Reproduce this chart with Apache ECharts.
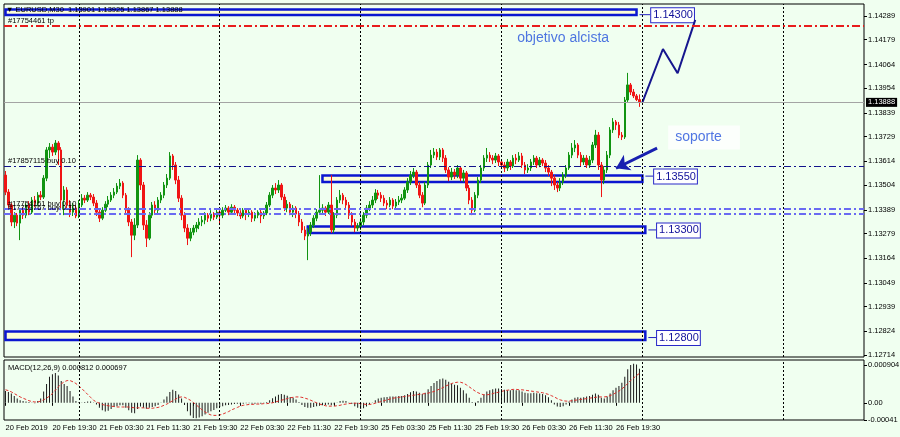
<!DOCTYPE html>
<html><head><meta charset="utf-8">
<script src="https://cdn.jsdelivr.net/npm/echarts@6/dist/echarts.min.js"></script>
<style>html,body{margin:0;padding:0;background:#f0fff0}#c{width:900px;height:437px}</style>
</head><body><div id="c"></div>
<script>
// ---------- DATA (EURUSD M30, [open, close, low, high]) ----------
const feb20 = [
[1.13550,1.13471,1.13457,1.13569],[1.13471,1.13411,1.13397,1.13485],[1.13411,1.13332,1.13313,1.13420],
[1.13332,1.13364,1.13304,1.13378],[1.13364,1.13327,1.13313,1.13374],[1.13327,1.13387,1.13248,1.13397],
[1.13387,1.13364,1.13346,1.13401],[1.13364,1.13411,1.13350,1.13420],[1.13411,1.13378,1.13364,1.13429],
[1.13378,1.13434,1.13369,1.13448],[1.13434,1.13420,1.13401,1.13453],[1.13420,1.13457,1.13406,1.13471],
[1.13457,1.13448,1.13434,1.13476],[1.13448,1.13536,1.13439,1.13550],[1.13536,1.13667,1.13522,1.13680],
[1.13667,1.13680,1.13629,1.13699],[1.13680,1.13657,1.13639,1.13694],[1.13657,1.13699,1.13643,1.13713],
[1.13699,1.13667,1.13597,1.13708],[1.13667,1.13434,1.13387,1.13680],[1.13434,1.13481,1.13364,1.13499],
[1.13481,1.13411,1.13397,1.13494],[1.13411,1.13378,1.13355,1.13434],[1.13378,1.13397,1.13360,1.13420],
[1.13397,1.13360,1.13350,1.13411]];
const feb21 = [
[1.13360,1.13411,1.13350,1.13434],[1.13411,1.13443,1.13401,1.13462],[1.13443,1.13434,1.13420,1.13457],
[1.13434,1.13457,1.13425,1.13471],[1.13457,1.13448,1.13434,1.13467],[1.13448,1.13420,1.13406,1.13462],
[1.13420,1.13378,1.13360,1.13434],[1.13378,1.13350,1.13332,1.13392],[1.13350,1.13387,1.13341,1.13401],
[1.13387,1.13415,1.13378,1.13429],[1.13415,1.13434,1.13401,1.13453],[1.13434,1.13457,1.13425,1.13471],
[1.13457,1.13471,1.13443,1.13490],[1.13471,1.13499,1.13462,1.13513],[1.13499,1.13513,1.13485,1.13532],
[1.13513,1.13457,1.13443,1.13522],[1.13457,1.13387,1.13374,1.13467],[1.13387,1.13332,1.13313,1.13401],
[1.13332,1.13271,1.13169,1.13346],[1.13271,1.13318,1.13248,1.13350],[1.13318,1.13620,1.13304,1.13643],
[1.13620,1.13504,1.13481,1.13629],[1.13504,1.13318,1.13295,1.13518],[1.13318,1.13257,1.13216,1.13341],
[1.13257,1.13364,1.13248,1.13378],[1.13364,1.13411,1.13350,1.13425],[1.13411,1.13387,1.13369,1.13429],
[1.13387,1.13434,1.13374,1.13448],[1.13434,1.13457,1.13420,1.13471],[1.13457,1.13504,1.13443,1.13518],
[1.13504,1.13536,1.13490,1.13555],[1.13536,1.13639,1.13527,1.13657],[1.13639,1.13597,1.13574,1.13648],
[1.13597,1.13527,1.13508,1.13611],[1.13527,1.13443,1.13425,1.13546],[1.13443,1.13364,1.13341,1.13457],
[1.13364,1.13304,1.13285,1.13378],[1.13304,1.13257,1.13225,1.13322],[1.13257,1.13285,1.13243,1.13304],
[1.13285,1.13304,1.13271,1.13318],[1.13304,1.13318,1.13285,1.13332],[1.13318,1.13332,1.13299,1.13350],
[1.13332,1.13341,1.13313,1.13360],[1.13341,1.13364,1.13322,1.13378],[1.13364,1.13350,1.13332,1.13374],
[1.13350,1.13369,1.13336,1.13387],[1.13369,1.13355,1.13341,1.13378],[1.13355,1.13378,1.13346,1.13392]];
const feb22 = [
[1.13378,1.13364,1.13322,1.13387],[1.13364,1.13387,1.13350,1.13401],[1.13387,1.13397,1.13378,1.13411],
[1.13397,1.13378,1.13364,1.13406],[1.13378,1.13401,1.13369,1.13415],[1.13401,1.13387,1.13374,1.13411],
[1.13387,1.13374,1.13360,1.13397],[1.13374,1.13360,1.13346,1.13387],[1.13360,1.13387,1.13350,1.13397],
[1.13387,1.13369,1.13341,1.13397],[1.13369,1.13378,1.13355,1.13392],[1.13378,1.13350,1.13332,1.13387],
[1.13350,1.13364,1.13336,1.13378],[1.13364,1.13378,1.13350,1.13387],[1.13378,1.13360,1.13327,1.13392],
[1.13360,1.13374,1.13346,1.13383],[1.13374,1.13411,1.13364,1.13425],[1.13411,1.13457,1.13401,1.13471],
[1.13457,1.13490,1.13443,1.13504],[1.13490,1.13481,1.13462,1.13513],[1.13481,1.13504,1.13467,1.13527],
[1.13504,1.13448,1.13434,1.13513],[1.13448,1.13397,1.13383,1.13462],[1.13397,1.13415,1.13378,1.13434],
[1.13415,1.13378,1.13364,1.13425],[1.13378,1.13397,1.13355,1.13411],[1.13397,1.13369,1.13350,1.13406],
[1.13369,1.13332,1.13313,1.13383],[1.13332,1.13295,1.13281,1.13346],[1.13295,1.13267,1.13248,1.13313],
[1.13267,1.13285,1.13155,1.13304],[1.13285,1.13318,1.13267,1.13332],[1.13318,1.13350,1.13304,1.13364],
[1.13350,1.13378,1.13336,1.13392],[1.13378,1.13387,1.13369,1.13550],[1.13387,1.13397,1.13374,1.13415],
[1.13397,1.13378,1.13360,1.13406],[1.13378,1.13411,1.13369,1.13425],[1.13411,1.13295,1.13281,1.13550],
[1.13295,1.13364,1.13281,1.13378],[1.13364,1.13434,1.13350,1.13448],[1.13434,1.13457,1.13420,1.13481],
[1.13457,1.13434,1.13415,1.13467],[1.13434,1.13411,1.13392,1.13448],[1.13411,1.13364,1.13346,1.13425],
[1.13364,1.13332,1.13313,1.13378],[1.13332,1.13304,1.13285,1.13346],[1.13304,1.13313,1.13290,1.13327]];
const feb25 = [
[1.13313,1.13332,1.13295,1.13350],[1.13332,1.13364,1.13318,1.13378],[1.13364,1.13397,1.13350,1.13411],
[1.13397,1.13411,1.13383,1.13429],[1.13411,1.13434,1.13397,1.13453],[1.13434,1.13467,1.13420,1.13485],
[1.13467,1.13457,1.13439,1.13481],[1.13457,1.13443,1.13425,1.13471],[1.13443,1.13420,1.13406,1.13457],
[1.13420,1.13411,1.13392,1.13434],[1.13411,1.13434,1.13401,1.13448],[1.13434,1.13406,1.13392,1.13443],
[1.13406,1.13425,1.13397,1.13439],[1.13425,1.13434,1.13411,1.13453],[1.13434,1.13443,1.13420,1.13462],
[1.13443,1.13481,1.13434,1.13494],[1.13481,1.13518,1.13467,1.13536],[1.13518,1.13550,1.13504,1.13569],
[1.13550,1.13564,1.13536,1.13583],[1.13564,1.13504,1.13490,1.13574],[1.13504,1.13457,1.13443,1.13518],
[1.13457,1.13420,1.13401,1.13471],[1.13420,1.13504,1.13411,1.13518],[1.13504,1.13597,1.13490,1.13611],
[1.13597,1.13643,1.13583,1.13667],[1.13643,1.13657,1.13629,1.13676],[1.13657,1.13634,1.13620,1.13671],
[1.13634,1.13667,1.13620,1.13676],[1.13667,1.13629,1.13611,1.13676],[1.13629,1.13574,1.13560,1.13643],
[1.13574,1.13541,1.13522,1.13587],[1.13541,1.13564,1.13527,1.13583],[1.13564,1.13550,1.13532,1.13578],
[1.13550,1.13583,1.13536,1.13597],[1.13583,1.13536,1.13522,1.13592],[1.13536,1.13560,1.13518,1.13574],
[1.13560,1.13490,1.13476,1.13569],[1.13490,1.13434,1.13415,1.13504],[1.13434,1.13387,1.13364,1.13448],
[1.13387,1.13457,1.13378,1.13471],[1.13457,1.13527,1.13443,1.13541],[1.13527,1.13583,1.13513,1.13597],
[1.13583,1.13629,1.13569,1.13643],[1.13629,1.13643,1.13611,1.13676],[1.13643,1.13629,1.13611,1.13657],
[1.13629,1.13620,1.13601,1.13643],[1.13620,1.13639,1.13606,1.13653],[1.13639,1.13611,1.13592,1.13648]];
const feb26 = [
[1.13611,1.13597,1.13578,1.13625],[1.13597,1.13583,1.13564,1.13611],[1.13583,1.13611,1.13569,1.13625],
[1.13611,1.13592,1.13574,1.13620],[1.13592,1.13629,1.13583,1.13643],[1.13629,1.13620,1.13601,1.13648],
[1.13620,1.13639,1.13611,1.13657],[1.13639,1.13597,1.13583,1.13653],[1.13597,1.13574,1.13555,1.13611],
[1.13574,1.13583,1.13560,1.13601],[1.13583,1.13611,1.13569,1.13625],[1.13611,1.13629,1.13597,1.13643],
[1.13629,1.13597,1.13583,1.13639],[1.13597,1.13620,1.13587,1.13634],[1.13620,1.13606,1.13592,1.13629],
[1.13606,1.13583,1.13564,1.13620],[1.13583,1.13564,1.13546,1.13597],[1.13564,1.13536,1.13499,1.13574],
[1.13536,1.13504,1.13481,1.13550],[1.13504,1.13490,1.13471,1.13518],[1.13490,1.13518,1.13476,1.13536],
[1.13518,1.13550,1.13504,1.13564],[1.13550,1.13583,1.13536,1.13597],[1.13583,1.13643,1.13574,1.13657],
[1.13643,1.13676,1.13629,1.13699],[1.13676,1.13690,1.13657,1.13713],[1.13690,1.13643,1.13629,1.13699],
[1.13643,1.13611,1.13592,1.13657],[1.13611,1.13629,1.13597,1.13643],[1.13629,1.13597,1.13583,1.13643],
[1.13597,1.13620,1.13583,1.13639],[1.13620,1.13690,1.13606,1.13704],[1.13690,1.13736,1.13676,1.13760],
[1.13736,1.13597,1.13574,1.13750],[1.13597,1.13527,1.13448,1.13611],[1.13527,1.13574,1.13508,1.13592],
[1.13574,1.13643,1.13560,1.13662],[1.13643,1.13760,1.13629,1.13773],[1.13760,1.13797,1.13746,1.13815],
[1.13797,1.13783,1.13760,1.13806],[1.13783,1.13736,1.13722,1.13797],[1.13736,1.13727,1.13713,1.13750],
[1.13727,1.13899,1.13718,1.13913],[1.13899,1.13969,1.13890,1.14025],[1.13969,1.13936,1.13922,1.13978],
[1.13936,1.13918,1.13908,1.13950],[1.13918,1.13901,1.13894,1.13927],[1.13901,1.13888,1.13867,1.13925]];

const macdHist = [
0.00028,0.00026,0.00022,0.00016,0.00010,0.00006,0.00004,0.00003,0.00002,0.00001,
-0.00001,0.00004,0.00010,0.00027,0.00045,0.00062,0.00068,0.00071,0.00065,0.00052,
0.00045,0.00040,0.00028,0.00015,0.00004,0.00002,0.00001,0.00002,0.00003,0.00003,
0.00001,-0.00004,-0.00012,-0.00018,-0.00021,-0.00019,-0.00015,-0.00010,-0.00008,-0.00006,
-0.00006,-0.00012,-0.00018,-0.00024,-0.00025,-0.00015,-0.00009,-0.00012,-0.00014,-0.00012,
-0.00010,-0.00008,-0.00005,0.00001,0.00008,0.00015,0.00026,0.00031,0.00028,0.00020,
0.00010,-0.00005,-0.00020,-0.00030,-0.00036,-0.00037,-0.00035,-0.00032,-0.00028,-0.00024,
-0.00020,-0.00017,-0.00013,-0.00010,-0.00008,-0.00006,-0.00005,-0.00004,-0.00003,-0.00002,
-0.00002,-0.00002,-0.00001,-0.00001,-0.00002,-0.00002,-0.00001,-0.00002,-0.00001,0.00002,
0.00006,0.00011,0.00015,0.00019,0.00021,0.00019,0.00017,0.00014,0.00012,0.00008,
0.00002,-0.00005,-0.00010,-0.00012,-0.00012,-0.00010,-0.00008,-0.00007,-0.00006,-0.00005,
-0.00004,-0.00006,-0.00004,0.00001,0.00004,0.00005,0.00004,0.00001,-0.00003,-0.00008,
-0.00012,-0.00015,-0.00013,-0.00009,-0.00004,0.00001,0.00006,0.00010,0.00012,0.00013,
0.00014,0.00015,0.00015,0.00015,0.00016,0.00016,0.00018,0.00021,0.00025,0.00028,
0.00027,0.00024,0.00021,0.00024,0.00032,0.00040,0.00047,0.00052,0.00056,0.00058,
0.00055,0.00050,0.00046,0.00043,0.00042,0.00036,0.00030,0.00022,0.00012,0.00002,
0.00001,0.00004,0.00012,0.00020,0.00027,0.00030,0.00032,0.00034,0.00034,0.00033,
0.00031,0.00030,0.00030,0.00031,0.00030,0.00030,0.00027,0.00024,0.00023,0.00023,
0.00024,0.00023,0.00022,0.00021,0.00018,0.00013,0.00006,-0.00004,-0.00009,-0.00010,
-0.00008,-0.00004,0.00003,0.00008,0.00012,0.00013,0.00012,0.00013,0.00015,0.00016,
0.00019,0.00022,0.00019,0.00012,0.00010,0.00015,0.00022,0.00030,0.00036,0.00040,
0.00048,0.00062,0.00080,0.00090,0.00093,0.00091,0.00081];
const macdSignal = [
0.00031,0.00029,0.00026,0.00022,0.00018,0.00014,0.00011,0.00008,0.00005,0.00003,
0.00002,0.00002,0.00004,0.00007,0.00011,0.00016,0.00022,0.00030,0.00038,0.00045,
0.00050,0.00053,0.00053,0.00050,0.00046,0.00040,0.00034,0.00027,0.00020,0.00013,
0.00006,0.00002,-0.00001,-0.00004,-0.00006,-0.00007,-0.00008,-0.00009,-0.00010,-0.00010,
-0.00010,-0.00010,-0.00010,-0.00011,-0.00012,-0.00012,-0.00012,-0.00012,-0.00013,-0.00013,
-0.00013,-0.00012,-0.00011,-0.00009,-0.00006,-0.00003,0.00001,0.00005,0.00009,0.00013,
0.00014,0.00013,0.00010,0.00006,0.00001,-0.00005,-0.00011,-0.00017,-0.00022,-0.00026,
-0.00029,-0.00030,-0.00030,-0.00029,-0.00027,-0.00024,-0.00021,-0.00017,-0.00014,-0.00011,
-0.00008,-0.00006,-0.00005,-0.00004,-0.00004,-0.00003,-0.00003,-0.00003,-0.00002,-0.00002,
-0.00001,0.00000,0.00002,0.00004,0.00006,0.00008,0.00010,0.00012,0.00013,0.00014,
0.00014,0.00013,0.00011,0.00009,0.00006,0.00003,0.00000,-0.00003,-0.00005,-0.00007,
-0.00008,-0.00008,-0.00008,-0.00007,-0.00006,-0.00004,-0.00003,-0.00002,-0.00001,-0.00001,
-0.00001,-0.00002,-0.00003,-0.00004,-0.00004,-0.00003,-0.00001,0.00001,0.00003,0.00005,
0.00007,0.00009,0.00011,0.00012,0.00013,0.00014,0.00015,0.00016,0.00017,0.00018,
0.00019,0.00020,0.00021,0.00022,0.00023,0.00025,0.00027,0.00030,0.00033,0.00036,
0.00040,0.00043,0.00046,0.00048,0.00049,0.00049,0.00047,0.00043,0.00038,0.00033,
0.00028,0.00024,0.00021,0.00019,0.00019,0.00020,0.00022,0.00024,0.00025,0.00027,
0.00029,0.00030,0.00031,0.00032,0.00032,0.00031,0.00031,0.00030,0.00029,0.00028,
0.00027,0.00026,0.00025,0.00024,0.00022,0.00020,0.00017,0.00014,0.00010,0.00007,
0.00005,0.00004,0.00004,0.00005,0.00006,0.00007,0.00008,0.00009,0.00010,0.00011,
0.00012,0.00013,0.00014,0.00014,0.00014,0.00015,0.00017,0.00020,0.00024,0.00028,
0.00033,0.00039,0.00046,0.00053,0.00059,0.00065,0.00070];

const priceTicks = [1.14289,1.14179,1.14064,1.13954,1.13839,1.13729,1.13614,1.13504,1.13389,1.13279,1.13164,1.13049,1.12939,1.12824,1.12714];
const macdTicks = [0.000904, 0, -0.00041];
const macdTickLabels = ['0.000904', '0.00', '-0.00041'];
const tickCats = ['20 Feb 11:30','20 Feb 19:30','21 Feb 03:30','21 Feb 11:30','21 Feb 19:30','22 Feb 03:30','22 Feb 11:30','22 Feb 19:30','25 Feb 03:30','25 Feb 11:30','25 Feb 19:30','26 Feb 03:30','26 Feb 11:30','26 Feb 19:30'];
const tickLabels = ['20 Feb 2019','20 Feb 19:30','21 Feb 03:30','21 Feb 11:30','21 Feb 19:30','22 Feb 03:30','22 Feb 11:30','22 Feb 19:30','25 Feb 03:30','25 Feb 11:30','25 Feb 19:30','26 Feb 03:30','26 Feb 11:30','26 Feb 19:30'];
const dayStarts = ['21 Feb 00:00','22 Feb 00:00','25 Feb 00:00','26 Feb 00:00','27 Feb 00:00','28 Feb 00:00'];
const bidPrice = 1.13888;
const orderLines = [
  {price: 1.14243, text: '#17754461 tp', kind: 'tp'},
  {price: 1.13592, text: '#17857115 buy 0.10', kind: 'buyA'},
  {price: 1.13395, text: '#17754161 buy 0.10', kind: 'buyB'},
  {price: 1.13372, text: '#17753767 buy 0.10', kind: 'buyB'}
];
// zones: [from bar, to bar], [top price, bottom price], label bar, label text
const zoneBars = [[-3, 215], [108, 217], [103, 218], [-3, 218]];
const zonePrices = [[1.14319, 1.14294], [1.13548, 1.13518], [1.13311, 1.13281], [1.12824, 1.12784]];
const zoneLabelBar = [220, 221, 222, 222];
const zoneLabels = ['1.14300', '1.13550', '1.13300', '1.12800'];
const projection = [[217, 1.13888], [224, 1.14136], [229, 1.14023], [235, 1.14271]];
const arrowFrom = [222, 1.13675], arrowTo = [208, 1.13582];
const notes = [{name: 'objetivo alcista', value: [190, 1.14187]}, {name: 'soporte', value: [238, 1.13725]}];

// ---------- CHART ----------
const FONT = "'Liberation Sans', Arial, sans-serif";
const SMALL = 7.5;
const MON = ['Jan','Feb','Mar','Apr','May','Jun','Jul','Aug','Sep','Oct','Nov','Dec'];
const pad = n => String(n).padStart(2, '0');
const categories = [];
let t = Date.UTC(2019, 1, 20, 11, 30);
while (categories.length < 293) {
  const d = new Date(t), wd = d.getUTCDay();
  if (wd !== 0 && wd !== 6) categories.push(d.getUTCDate() + ' ' + MON[d.getUTCMonth()] + ' ' + pad(d.getUTCHours()) + ':' + pad(d.getUTCMinutes()));
  t += 30 * 60000;
}
const labelMap = {};
tickCats.forEach((c, i) => labelMap[c] = tickLabels[i]);
const candles = [].concat(feb20, feb21, feb22, feb25, feb26);

const lineStyles = {
  tp: {color: '#e81c1c', width: 2, type: [8, 3, 2, 3]},
  buyA: {color: '#12128c', width: 1, type: [7, 3, 2, 3]},
  buyB: {color: '#6a6af2', width: 2, type: [7, 3, 2, 3]}
};
const vDotted = {color: '#000', width: 1, type: [2, 2]};
const soporteLabel = {backgroundColor: '#ffffff', padding: [5, 18, 5, 7]};

const chart = echarts.init(document.getElementById('c'), null, {renderer: 'canvas'});
chart.setOption({
  animation: false,
  backgroundColor: '#f0fff0',
  title: [
    {text: '\u25BC EURUSD,M30  1.13901 1.13925 1.13867 1.13888', left: 6, top: 6, padding: 0,
     textStyle: {fontSize: SMALL, fontWeight: 'normal', color: '#000', fontFamily: FONT}},
    {text: 'MACD(12,26,9) 0.000812 0.000697', left: 8, top: 364, padding: 0,
     textStyle: {fontSize: SMALL, fontWeight: 'normal', color: '#000', fontFamily: FONT}}
  ],
  grid: [
    {left: 4, top: 4, width: 860, height: 353, show: true, borderColor: '#000', borderWidth: 1, backgroundColor: 'transparent', outerBoundsMode: 'none'},
    {left: 4, top: 360, width: 860, height: 60, show: true, borderColor: '#000', borderWidth: 1, backgroundColor: 'transparent', outerBoundsMode: 'none'}
  ],
  xAxis: [
    {type: 'category', gridIndex: 0, data: categories, boundaryGap: true,
     axisLine: {show: false}, axisTick: {show: false}, axisLabel: {show: false}, splitLine: {show: false}},
    {type: 'category', gridIndex: 1, data: categories, boundaryGap: true,
     axisLine: {show: false},
     axisTick: {show: true, alignWithLabel: true, length: 3, interval: (i, v) => v in labelMap, lineStyle: {color: '#000'}},
     axisLabel: {show: true, showMinLabel: true, hideOverlap: false, interval: (i, v) => v in labelMap, formatter: v => labelMap[v] || '',
       align: 'left', margin: 4, fontSize: SMALL, color: '#000', fontFamily: FONT},
     splitLine: {show: false}}
  ],
  yAxis: [
    {type: 'value', gridIndex: 0, position: 'right', min: 1.12705, max: 1.14345,
     splitLine: {show: false}, axisLine: {show: false},
     axisTick: {show: true, length: 3, customValues: priceTicks, lineStyle: {color: '#000'}},
     axisLabel: {show: true, customValues: priceTicks, formatter: v => v.toFixed(5), margin: 4,
       fontSize: SMALL, color: '#000', fontFamily: FONT}},
    {type: 'value', gridIndex: 1, position: 'right', min: -0.00041, max: 0.00102,
     splitLine: {show: false}, axisLine: {show: false},
     axisTick: {show: true, length: 3, customValues: macdTicks, lineStyle: {color: '#000'}},
     axisLabel: {show: true, customValues: macdTicks, margin: 4, fontSize: SMALL, color: '#000', fontFamily: FONT,
       formatter: v => { let b = 0; macdTicks.forEach((m, i) => { if (Math.abs(m - v) < Math.abs(macdTicks[b] - v)) b = i; }); return macdTickLabels[b]; }}}
  ],
  series: [
    {
      type: 'custom', name: 'zones', xAxisIndex: 0, yAxisIndex: 0, z: 1, silent: true,
      data: zoneBars.map((b, i) => [b[0], b[1], zonePrices[i][0], zonePrices[i][1], zoneLabelBar[i], parseFloat(zoneLabels[i])]),
      encode: {x: [0, 1, 4], y: [2, 3, 5]},
      renderItem: function (params, api) {
        const i = params.dataIndex, cs = params.coordSys;
        const a = api.coord([api.value(0), api.value(2)]);
        const b = api.coord([api.value(1), api.value(3)]);
        const l = api.coord([api.value(4), api.value(5)]);
        const x0 = Math.max(a[0], cs.x + 1.5);
        return {type: 'group', children: [
          {type: 'rect', shape: {x: x0, y: a[1], width: b[0] - x0, height: b[1] - a[1]},
           style: {fill: '#fdfdd6', stroke: '#0b16d0', lineWidth: 2.5}},
          {type: 'line', shape: {x1: b[0] + 3, y1: l[1] + 1, x2: l[0] - 1, y2: l[1] + 1},
           style: {stroke: '#2020c0', lineWidth: 1}},
          {type: 'text', style: {x: l[0], y: l[1] + 1.5, text: zoneLabels[i], align: 'left', verticalAlign: 'middle',
            font: '11px "Liberation Sans", Arial, sans-serif', fill: '#10109a', backgroundColor: '#ffffff',
            borderColor: '#2828c8', borderWidth: 1, padding: [2, 1, 1, 2]}}
        ]};
      }
    },
    {
      type: 'line', name: 'levels', xAxisIndex: 0, yAxisIndex: 0, data: [], z: 2, clip: false, silent: true,
      markLine: {
        silent: true, symbol: ['none', 'none'], animation: false, precision: 5,
        data: [
          ...dayStarts.map(d => ({xAxis: d, lineStyle: vDotted, label: {show: false}})),
          ...orderLines.map(o => ({yAxis: o.price, lineStyle: lineStyles[o.kind],
            label: {show: true, position: 'insideStartTop', formatter: o.text, distance: [4, 1],
              color: '#000', fontSize: SMALL, fontFamily: FONT}})),
          {yAxis: bidPrice, lineStyle: {color: '#a4a4a4', width: 1, type: 'solid'},
           label: {show: true, position: 'end', formatter: bidPrice.toFixed(5), distance: 2, color: '#fff',
             backgroundColor: '#000', padding: [1, 2, 0, 2], fontSize: SMALL, fontFamily: FONT}}
        ]
      }
    },
    {
      type: 'candlestick', name: 'EURUSD', xAxisIndex: 0, yAxisIndex: 0, z: 3, data: candles, barWidth: 2,
      itemStyle: {color: '#119411', color0: '#f01414', borderColor: '#119411', borderColor0: '#f01414', borderWidth: 1}
    },
    {
      type: 'line', name: 'projection', xAxisIndex: 0, yAxisIndex: 0, z: 4, data: projection, symbol: 'none',
      lineStyle: {color: '#16168e', width: 2}, clip: false, silent: true,
      markLine: {silent: true, symbol: ['none', 'arrow'], symbolSize: 13, animation: false, precision: 5,
        lineStyle: {color: '#1820b0', width: 3, type: 'solid'}, label: {show: false},
        data: [[{coord: arrowFrom}, {coord: arrowTo}]]}
    },
    {
      type: 'scatter', name: 'notes', xAxisIndex: 0, yAxisIndex: 0, z: 5, symbolSize: 1,
      data: [notes[0], {name: notes[1].name, value: notes[1].value, label: soporteLabel}],
      itemStyle: {color: 'rgba(0,0,0,0)'}, silent: true,
      label: {show: true, position: 'inside', formatter: p => p.name, color: '#2452dc', fontSize: 14,
        fontFamily: "'Liberation Sans', Arial, sans-serif"},
      emphasis: {disabled: true}
    },
    {
      type: 'bar', name: 'MACD', xAxisIndex: 1, yAxisIndex: 1, data: macdHist, barWidth: 1,
      itemStyle: {color: '#1a1a1a'}, silent: true,
      markLine: {silent: true, symbol: ['none', 'none'], animation: false, label: {show: false},
        data: dayStarts.map(d => ({xAxis: d, lineStyle: vDotted}))}
    },
    {
      type: 'line', name: 'Signal', xAxisIndex: 1, yAxisIndex: 1, data: macdSignal, symbol: 'none',
      lineStyle: {color: '#e0302c', width: 1, type: [3, 2]}, silent: true
    }
  ]
});
</script></body></html>
